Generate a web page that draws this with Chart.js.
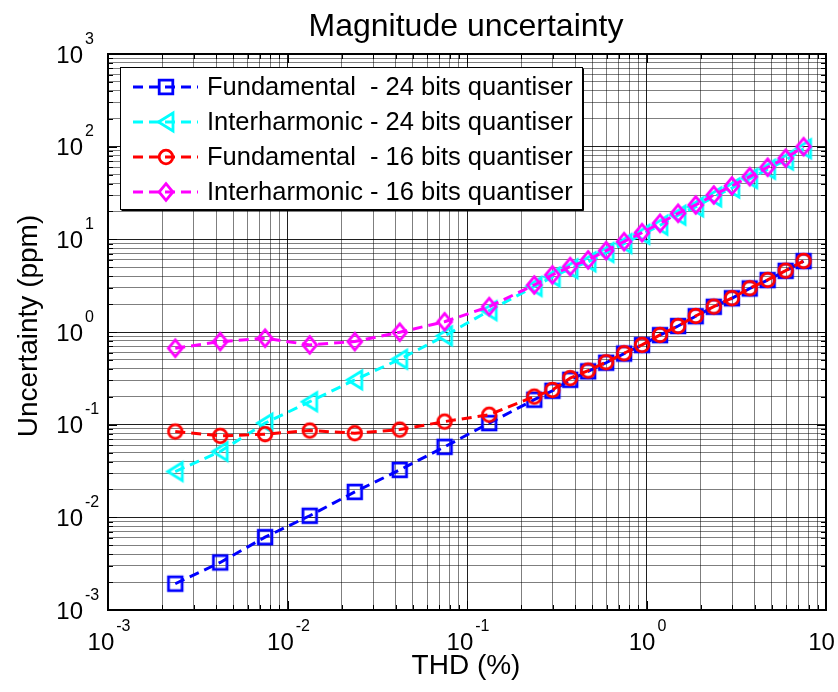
<!DOCTYPE html>
<html>
<head>
<meta charset="utf-8">
<script src="https://cdn.jsdelivr.net/npm/chart.js@4/dist/chart.umd.min.js"></script>
<style>
  html, body { margin: 0; padding: 0; background: #fff; }
  #chart { display: block; }
</style>
</head>
<body>
<canvas id="chart" width="838" height="692"></canvas>
<script>
/* ============================================================
   MAGNITUDE UNCERTAINTY - log/log, MATLAB look
   ============================================================ */

// THD (%) at which each series was evaluated
const thd = [0.00237, 0.00422, 0.0075, 0.0133, 0.0237, 0.0422, 0.075, 0.133,
  0.237, 0.299, 0.376, 0.473, 0.596, 0.750, 0.944, 1.19, 1.50, 1.88, 2.37, 2.99, 3.76, 4.73, 5.96, 7.50];

// uncertainty (ppm)
const fund24 = [0.00192, 0.00326, 0.00611, 0.0104, 0.0188, 0.0325, 0.0576, 0.104,
  0.186, 0.232, 0.305, 0.376, 0.466, 0.585, 0.722, 0.925, 1.16, 1.48, 1.87, 2.31, 2.95, 3.63, 4.57, 5.82];
const inter24 = [0.0312, 0.0513, 0.104, 0.177, 0.304, 0.508, 0.908, 1.70,
  3.10, 3.92, 4.82, 5.72, 7.20, 9.00, 11.3, 14.2, 18.2, 22.4, 28.7, 35.8, 45.2, 57.0, 71.5, 95.0];
const fund16 = [0.0843, 0.0757, 0.0790, 0.0864, 0.0809, 0.0885, 0.108, 0.128,
  0.201, 0.237, 0.318, 0.384, 0.472, 0.590, 0.726, 0.931, 1.16, 1.49, 1.88, 2.32, 2.97, 3.65, 4.59, 5.85];
const inter16 = [0.668, 0.788, 0.857, 0.726, 0.788, 0.995, 1.29, 1.88,
  3.22, 4.13, 5.08, 6.00, 7.55, 9.44, 11.8, 14.9, 19.1, 23.5, 30.1, 37.7, 47.5, 60.0, 75.0, 100];

const seriesLabels = [
  'Fundamental  - 24 bits quantiser',
  'Interharmonic - 24 bits quantiser',
  'Fundamental  - 16 bits quantiser',
  'Interharmonic - 16 bits quantiser'
];
const seriesColors = ['#0000ff', '#00ffff', '#ff0000', '#ff00ff'];
const seriesShapes = ['square', 'triangle', 'circle', 'diamond'];

// tick positions (1..9 x 10^k)
const xTicks = [0.001, 0.002, 0.003, 0.004, 0.005, 0.006, 0.007, 0.008, 0.009,
  0.01, 0.02, 0.03, 0.04, 0.05, 0.06, 0.07, 0.08, 0.09,
  0.1, 0.2, 0.3, 0.4, 0.5, 0.6, 0.7, 0.8, 0.9,
  1, 2, 3, 4, 5, 6, 7, 8, 9, 10];
const yTicks = [0.001, 0.002, 0.003, 0.004, 0.005, 0.006, 0.007, 0.008, 0.009,
  0.01, 0.02, 0.03, 0.04, 0.05, 0.06, 0.07, 0.08, 0.09,
  0.1, 0.2, 0.3, 0.4, 0.5, 0.6, 0.7, 0.8, 0.9,
  1, 2, 3, 4, 5, 6, 7, 8, 9,
  10, 20, 30, 40, 50, 60, 70, 80, 90,
  100, 200, 300, 400, 500, 600, 700, 800, 900, 1000];
const xDecades = [-3, -2, -1, 0, 1];
const yDecades = [-3, -2, -1, 0, 1, 2, 3];

const FONT = '"Liberation Sans", Arial, sans-serif';
const DASH = [10, 6];

function isMajor(v) {
  const l = Math.log10(v);
  return Math.abs(l - Math.round(l)) < 1e-9;
}

function makeMarker(shape, color) {
  const c = document.createElement('canvas');
  c.width = 26; c.height = 26;
  const g = c.getContext('2d');
  const m = 13;
  g.strokeStyle = color;
  g.lineWidth = 2.8;
  g.lineJoin = 'miter';
  g.beginPath();
  if (shape === 'square') g.rect(m - 6.8, m - 6.8, 13.6, 13.6);
  if (shape === 'circle') g.arc(m, m, 6.8, 0, Math.PI * 2);
  if (shape === 'diamond') {
    g.moveTo(m, m - 8.4); g.lineTo(m + 6.9, m); g.lineTo(m, m + 8.4); g.lineTo(m - 6.9, m); g.closePath();
  }
  if (shape === 'triangle') {
    g.moveTo(m - 7.5, m); g.lineTo(m + 7, m - 9); g.lineTo(m + 7, m + 9); g.closePath();
  }
  g.stroke();
  return c;
}

const markers = seriesShapes.map((s, i) => makeMarker(s, seriesColors[i]));
const values = [fund24, inter24, fund16, inter16];

const datasets = values.map((arr, i) => ({
  label: seriesLabels[i],
  data: thd.map((x, k) => ({ x, y: arr[k] })),
  borderColor: seriesColors[i],
  backgroundColor: 'transparent',
  borderWidth: 3,
  borderDash: DASH,
  pointStyle: markers[i],
  pointRadius: 8,
  tension: 0,
  order: 4 - i
}));

function drawPow(ctx, exp, x, y, align) {
  // "10" with superscript exponent; x/y is the anchor of the "10"
  const base = '10', sup = String(exp);
  ctx.font = '24px ' + FONT;
  const wb = ctx.measureText(base).width;
  ctx.font = '16px ' + FONT;
  const ws = ctx.measureText(sup).width;
  let bx;
  if (align === 'center') bx = x - (wb + 2 + ws) / 2;
  else bx = x - wb; // right-align the "10"
  ctx.fillStyle = '#000';
  ctx.textAlign = 'left';
  ctx.textBaseline = 'alphabetic';
  ctx.font = '24px ' + FONT;
  ctx.fillText(base, bx, y);
  ctx.font = '16px ' + FONT;
  ctx.fillText(sup, bx + wb + 2, y - 19);
}

const matlabAxes = {
  id: 'matlabAxes',
  afterDatasetsDraw(chart) {
    const { ctx, chartArea: a, scales } = chart;
    const xs = scales.x, ys = scales.y;
    ctx.save();

    // inward ticks on all four sides
    ctx.strokeStyle = '#000';
    ctx.lineWidth = 1;
    ctx.beginPath();
    xTicks.forEach(v => {
      const px = Math.round(xs.getPixelForValue(v)) + 0.5;
      const len = isMajor(v) ? 9 : 5;
      ctx.moveTo(px, a.bottom); ctx.lineTo(px, a.bottom - len);
      ctx.moveTo(px, a.top); ctx.lineTo(px, a.top + len);
    });
    yTicks.forEach(v => {
      const py = Math.round(ys.getPixelForValue(v)) + 0.5;
      const len = isMajor(v) ? 9 : 5;
      ctx.moveTo(a.left, py); ctx.lineTo(a.left + len, py);
      ctx.moveTo(a.right, py); ctx.lineTo(a.right - len, py);
    });
    ctx.stroke();

    // box
    ctx.lineWidth = 2;
    ctx.strokeRect(a.left, a.top, a.right - a.left, a.bottom - a.top);

    // tick labels
    xDecades.forEach(e => drawPow(ctx, e, xs.getPixelForValue(Math.pow(10, e)) + 1, 650, 'center'));
    yDecades.forEach(e => drawPow(ctx, e, 83, ys.getPixelForValue(Math.pow(10, e)) + 8.5, 'right'));

    // title and axis labels
    ctx.fillStyle = '#000';
    ctx.textAlign = 'center';
    ctx.textBaseline = 'alphabetic';
    ctx.font = '32px ' + FONT;
    ctx.fillText('Magnitude uncertainty', 466, 36);
    ctx.font = '28px ' + FONT;
    ctx.fillText('THD (%)', 466, 674);
    ctx.save();
    ctx.translate(37, 326);
    ctx.rotate(-Math.PI / 2);
    ctx.fillText('Uncertainty (ppm)', 0, 0);
    ctx.restore();

    // legend
    const lx = 120.5, ly = 67.5, lw = 462, lh = 142;
    ctx.fillStyle = '#fff';
    ctx.fillRect(lx, ly, lw, lh);
    ctx.lineWidth = 1;
    ctx.strokeStyle = '#000';
    ctx.strokeRect(lx, ly, lw, lh);
    ctx.beginPath();
    ctx.moveTo(lx + lw + 1, ly + 1); ctx.lineTo(lx + lw + 1, ly + lh + 1); ctx.lineTo(lx + 1, ly + lh + 1);
    ctx.stroke();
    const rows = [87, 122, 157, 192];
    chart.data.datasets.forEach((ds, i) => {
      const y = rows[i];
      ctx.strokeStyle = ds.borderColor;
      ctx.lineWidth = 3;
      ctx.setLineDash(DASH);
      ctx.beginPath();
      ctx.moveTo(133, y); ctx.lineTo(198, y);
      ctx.stroke();
      ctx.setLineDash([]);
      const img = ds.pointStyle;
      ctx.drawImage(img, 166 - img.width / 2, y - img.height / 2);
      ctx.fillStyle = '#000';
      ctx.textAlign = 'left';
      ctx.textBaseline = 'middle';
      ctx.font = '25.5px ' + FONT;
      ctx.fillText(ds.label, 207, y + 1);
    });

    ctx.restore();
  }
};

function gridColor(c) {
  return isMajor(c.tick.value) ? 'rgba(0,0,0,0.88)' : 'rgba(0,0,0,0.5)';
}

new Chart(document.getElementById('chart').getContext('2d'), {
  type: 'line',
  data: { datasets },
  options: {
    responsive: false,
    animation: false,
    devicePixelRatio: 1,
    layout: { padding: { left: 108, top: 54, right: 12, bottom: 82 } },
    plugins: { legend: { display: false }, tooltip: { enabled: false }, title: { display: false } },
    scales: {
      x: {
        type: 'logarithmic',
        min: 0.001, max: 10,
        afterBuildTicks: s => { s.ticks = xTicks.map(v => ({ value: v })); },
        afterFit: s => { s.height = 0; },
        ticks: { display: false },
        border: { display: false },
        grid: { color: gridColor, lineWidth: 1, drawTicks: false }
      },
      y: {
        type: 'logarithmic',
        min: 0.001, max: 1000,
        afterBuildTicks: s => { s.ticks = yTicks.map(v => ({ value: v })); },
        afterFit: s => { s.width = 0; },
        ticks: { display: false },
        border: { display: false },
        grid: { color: gridColor, lineWidth: 1, drawTicks: false }
      }
    }
  },
  plugins: [matlabAxes]
});
</script>
</body>
</html>
